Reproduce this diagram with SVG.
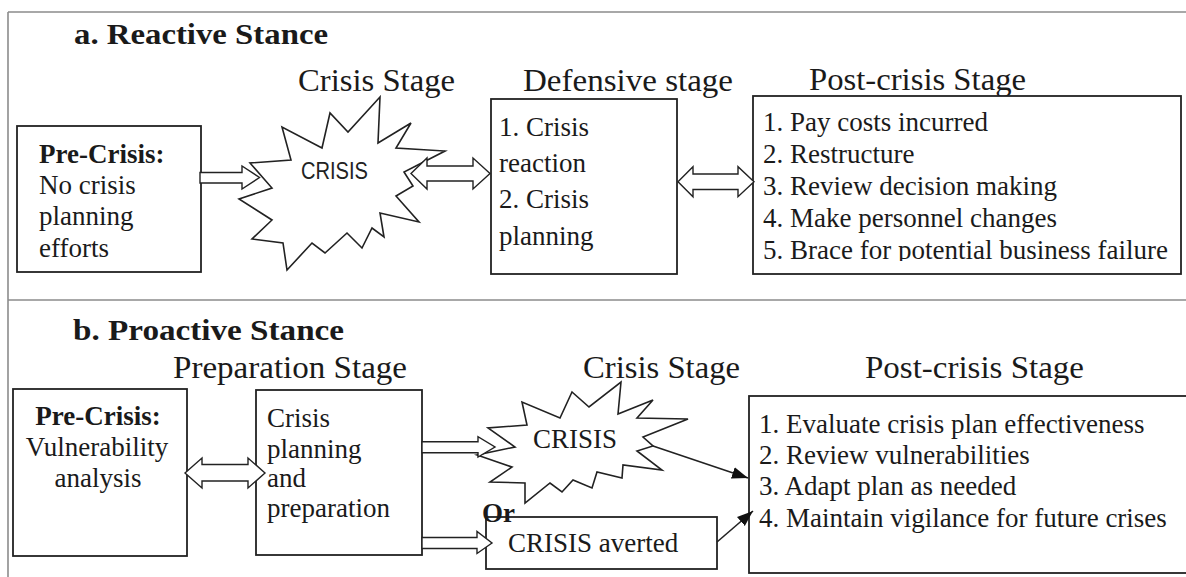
<svg xmlns="http://www.w3.org/2000/svg" width="1186" height="577" viewBox="0 0 1186 577">
<style>
.frame{fill:none;stroke:#8c8c8c;stroke-width:1.6}
.box{fill:#fff;stroke:#222;stroke-width:1.8}
.star{fill:#fff;stroke:#222;stroke-width:1.6;stroke-linejoin:miter}
.harrow{fill:#fff;stroke:#222;stroke-width:1.4;stroke-linejoin:miter}
.line{fill:none;stroke:#222;stroke-width:1.6}
.t{font-family:"Liberation Serif","Times New Roman",serif;font-size:27px;fill:#1a1a1a}
.b{font-weight:bold}
.title{font-family:"Liberation Serif","Times New Roman",serif;font-size:30px;font-weight:bold;fill:#1a1a1a}
.stage{font-family:"Liberation Serif","Times New Roman",serif;font-size:31px;fill:#1a1a1a}
.sans{font-family:"Liberation Sans",Arial,sans-serif;font-size:24px;fill:#222}
</style>
<defs>
<marker id="head" markerUnits="userSpaceOnUse" markerWidth="17" markerHeight="13" refX="16" refY="6" orient="auto">
<path d="M0,0 L16,6 L0,12 z" fill="#111"/>
</marker>
<clipPath id="clipA"><rect x="750" y="96" width="440" height="165"/></clipPath>
</defs>
<rect width="1186" height="577" fill="#fff"/>
<g id="frame">
<path class="frame" d="M8,12 H1186 M8,12 V577 M8,300 H1186"/>
</g>
<g id="section-a">
<text class="title" x="74" y="44" textLength="254" lengthAdjust="spacingAndGlyphs">a. Reactive Stance</text>
<text class="stage" x="298" y="91" textLength="157" lengthAdjust="spacingAndGlyphs">Crisis Stage</text>
<text class="stage" x="523" y="91" textLength="210" lengthAdjust="spacingAndGlyphs">Defensive stage</text>
<text class="stage" x="809" y="90" textLength="217" lengthAdjust="spacingAndGlyphs">Post-crisis Stage</text>
</g>
<g id="a-precrisis">
<rect class="box" x="17" y="126" width="184" height="146"/>
<text class="t b" x="39" y="163">Pre-Crisis:</text>
<text class="t" x="39" y="194">No crisis</text>
<text class="t" x="39" y="225">planning</text>
<text class="t" x="39" y="257">efforts</text>
</g>
<g id="a-crisis">
<polygon class="star" points="380,97 348,132 330,113 322,148 282,127 291,160 250,163 272,188 239,199 272,220 252,239 283,243 287,270 312,243 325,253 347,233 362,248 372,228 384,237 380,213 419,222 396,196 413,186 404,172 445,151 396,148 411,123 378,143"/>
<text class="sans" x="301" y="179" textLength="67" lengthAdjust="spacingAndGlyphs">CRISIS</text>
</g>
<g id="a-defensive">
<rect class="box" x="491" y="99" width="186" height="175"/>
<text class="t" x="499" y="136">1. Crisis</text>
<text class="t" x="499" y="172">reaction</text>
<text class="t" x="499" y="208">2. Crisis</text>
<text class="t" x="499" y="245">planning</text>
</g>
<g id="a-postcrisis">
<rect class="box" x="753" y="96" width="428" height="178"/>
<text class="t" x="763" y="131">1. Pay costs incurred</text>
<text class="t" x="763" y="163">2. Restructure</text>
<text class="t" x="763" y="195">3. Review decision making</text>
<text class="t" x="763" y="227">4. Make personnel changes</text>
<text class="t" x="763" y="259" clip-path="url(#clipA)">5. Brace for potential business failure</text>
</g>
<g id="section-b">
<text class="title" x="73" y="340" textLength="271" lengthAdjust="spacingAndGlyphs">b. Proactive Stance</text>
<text class="stage" x="173" y="378" textLength="234" lengthAdjust="spacingAndGlyphs">Preparation Stage</text>
<text class="stage" x="583" y="378" textLength="157" lengthAdjust="spacingAndGlyphs">Crisis Stage</text>
<text class="stage" x="865" y="378" textLength="219" lengthAdjust="spacingAndGlyphs">Post-crisis Stage</text>
</g>
<g id="b-precrisis">
<rect class="box" x="13" y="389" width="174" height="167"/>
<text class="t b" x="98" y="425" text-anchor="middle">Pre-Crisis:</text>
<text class="t" x="97" y="456" text-anchor="middle">Vulnerability</text>
<text class="t" x="98" y="487" text-anchor="middle">analysis</text>
</g>
<g id="b-preparation">
<rect class="box" x="256" y="390" width="166" height="165"/>
<text class="t" x="267" y="427">Crisis</text>
<text class="t" x="267" y="458">planning</text>
<text class="t" x="267" y="487">and</text>
<text class="t" x="267" y="517">preparation</text>
</g>
<g id="b-crisis">
<polygon class="star" points="621,382 618,414 653,400 637,418 688,419 643,437 653,446 637,451 662,470 623,465 622,478 597,472 592,488 573,480 562,492 550,483 525,503 525,483 490,482 512,467 477,455 515,447 488,428 527,425 522,402 560,418 572,392 589,407"/>
<text class="t" x="533" y="448" textLength="84" lengthAdjust="spacingAndGlyphs">CRISIS</text>
</g>
<g id="b-averted">
<rect class="box" x="486" y="517" width="231" height="52"/>
<text class="t" x="508" y="552">CRISIS averted</text>
<text class="t b" x="482" y="522" font-size="28">Or</text>
</g>
<g id="b-postcrisis">
<rect class="box" x="749" y="396" width="460" height="177"/>
<text class="t" x="759" y="433">1. Evaluate crisis plan effectiveness</text>
<text class="t" x="759" y="464">2. Review vulnerabilities</text>
<text class="t" x="759" y="495">3. Adapt plan as needed</text>
<text class="t" x="759" y="527">4. Maintain vigilance for future crises</text>
</g>
<g id="connectors">
<polygon class="harrow" points="200,172.5 242,172.5 242,166 259.5,177.5 242,189 242,183 200,183"/>
<polygon class="harrow" points="411,173.5 427,158 427,166 473,166 473,158 490,173.5 473,189 473,181 427,181 427,189"/>
<polygon class="harrow" points="678,181.7 693,166.7 693,174 738,174 738,166.7 754,181.7 738,196.7 738,189.5 693,189.5 693,196.7"/>
<polygon class="harrow" points="185,473 202,458 202,464.5 248,464.5 248,458 265,473 248,488 248,481 202,481 202,488"/>
<polygon class="harrow" points="422,441.7 478,441.7 478,436.7 495,447 478,457 478,452.7 422,452.7"/>
<polygon class="harrow" points="422,537.5 477,537.5 477,531.5 492,543 477,553.5 477,548.5 422,548.5"/>
<line class="line" x1="653" y1="446" x2="748" y2="478" marker-end="url(#head)"/>
<line class="line" x1="717" y1="542" x2="753" y2="511" marker-end="url(#head)"/>
</g>
</svg>
